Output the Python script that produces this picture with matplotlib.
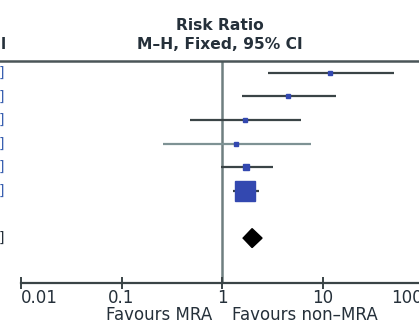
import matplotlib.pyplot as plt
import numpy as np

# study rows: point estimate and 95% CI (risk ratio)
rr = [11.9, 4.54, 1.69, 1.38, 1.73, 1.69]
ci_low = [2.87, 1.58, 0.48, 0.26, 0.98, 1.29]
ci_high = [51.4, 13.6, 6.1, 7.7, 3.22, 2.33]
weights = [3.0, 3.5, 3.5, 2.0, 8.0, 80.0]

# pooled estimate (diamond)
total_rr = 1.99
total_low = 1.62
total_high = 2.50

ticks = [0.01, 0.1, 1, 10, 100]
tick_labels = ["0.01", "0.1", "1", "10", "100"]

text_col = "#25303a"
line_col = "#3a4446"
blue = "#3348b0"

fig = plt.figure(figsize=(4.19, 3.26), dpi=100)
ax = fig.add_axes([0.0, 0.132, 1.082, 0.681])
ax.set_xscale("log")
ax.set_xlim(10 ** -2.209, 200)
ax.set_ylim(8.9, -0.5)

n = len(rr)
rows = np.arange(n)
for i in range(n):
    c = "#7e9294" if i == 3 else line_col
    ax.plot([ci_low[i], ci_high[i]], [rows[i], rows[i]], color=c, lw=1.6,
            solid_capstyle="butt", zorder=2)
    side = max(2.3 * np.sqrt(weights[i]), 4.0) * 0.72  # px -> pt
    ax.plot(rr[i], rows[i], marker="s", ms=side, color=blue, mec=blue,
            zorder=3)

# pooled diamond
yd = n + 1
ax.fill([total_low, total_rr, total_high, total_rr],
        [yd, yd - 0.4, yd, yd + 0.4], color="black", zorder=3)

# line of no effect
ax.axvline(1, color="#6f7f80", lw=1.8, zorder=1)

for s in ["left", "right"]:
    ax.spines[s].set_visible(False)
ax.spines["top"].set_color("#4a5558")
ax.spines["top"].set_linewidth(1.8)
ax.spines["bottom"].set_color(line_col)
ax.spines["bottom"].set_linewidth(1.6)
ax.spines["bottom"].set_bounds(0.01, 200)
ax.set_yticks([])
ax.set_xticks(ticks)
ax.set_xticklabels(tick_labels)
ax.minorticks_off()
ax.tick_params(axis="x", direction="inout", length=9, width=1.4,
               color=line_col, labelsize=12, labelcolor=text_col, pad=0)
labels = ax.get_xticklabels()
labels[0].set_ha("left")
labels[-1].set_ha("right")

# header
fig.text(0.525, 0.922, "Risk Ratio", ha="center", va="center",
         fontsize=11.2, fontweight="bold", color=text_col)
fig.text(0.525, 0.862, "M\u2013H, Fixed, 95% CI", ha="center", va="center",
         fontsize=11.2, fontweight="bold", color=text_col)
fig.text(0.013, 0.862, "l", ha="right", va="center", fontsize=11,
         fontweight="bold", color=text_col)

# clipped brackets from the left-hand table
bx = 10 ** -2.167
for i in range(n):
    ax.text(bx, rows[i], "]", ha="right", va="center",
            fontsize=10, color="#3a60b0")
ax.text(bx, yd, "]", ha="right", va="center", fontsize=10,
        color=text_col)

fig.text(0.38, 0.033, "Favours MRA", ha="center", va="center",
         fontsize=12, color=text_col)
fig.text(0.728, 0.033, "Favours non\u2013MRA", ha="center", va="center",
         fontsize=12, color=text_col)

fig.savefig("out.png", dpi=100)
